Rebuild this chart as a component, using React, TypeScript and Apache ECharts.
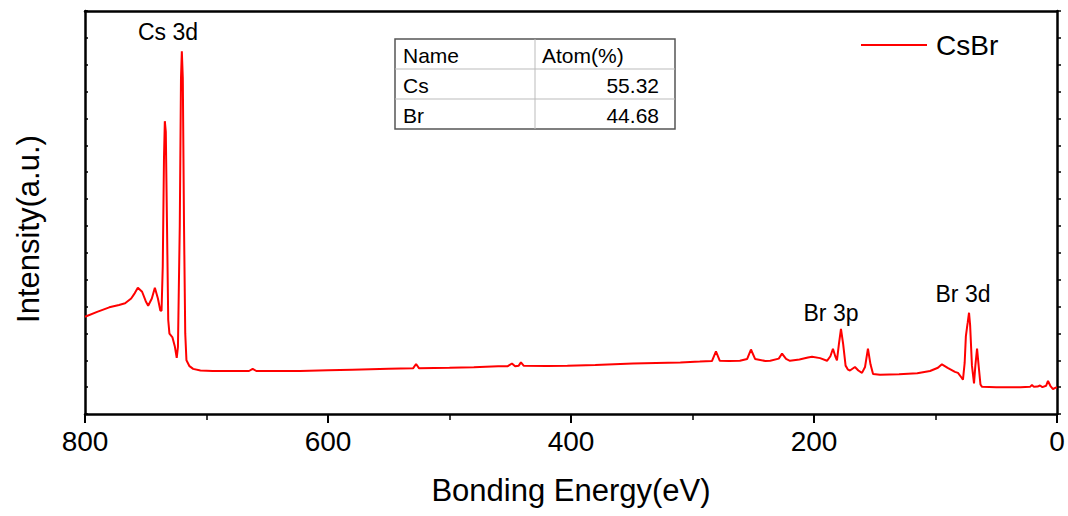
import React, { useEffect, useRef } from "react";
import * as echarts from "echarts";

const energy: number[] = [
  800, 790, 780, 772, 767, 762, 759, 756.5, 753, 750, 748, 745, 742.5, 740, 738, 737, 736, 735, 734.3, 733.5,
  732.5, 731.5, 730.5, 728, 726, 724.5, 723.5, 722, 721, 720.3, 719.5, 718.5, 717.5, 716.5, 714, 711, 705, 695,
  680, 665, 662, 659, 640, 623, 600, 580, 550, 530, 527.5, 525, 500, 480, 460, 452, 448.6, 446, 443, 441.2, 439,
  420, 403, 380, 349, 330, 310, 294, 284, 280.7, 277.5, 270, 261, 255, 251.9, 248.5, 240, 236, 229, 226.3, 223,
  219.8, 212, 205, 201.6, 195, 189.3, 186.5, 184.4, 182.5, 181.1, 179.5, 177.8, 176, 174, 172, 170.4, 166.3,
  163.5, 160.5, 158, 155.6, 153.5, 151.4, 145.7, 130, 115, 104.5, 98, 94.7, 90, 84, 81.5, 78.5, 77.4, 76, 75,
  74.1, 73.5, 72.4, 71.5, 70, 68.3, 67.2, 65.8, 64.5, 63, 61.7, 50, 30, 22.2, 20.6, 19, 16, 14, 12, 9, 7.4, 5.5,
  3.3, 1, 0,
];

const intensity: number[] = [
  3.62, 3.8, 3.97, 4.06, 4.12, 4.3, 4.5, 4.7, 4.55, 4.2, 4.03, 4.3, 4.7, 4.3, 3.85, 3.84, 5.5, 9.5, 10.9, 10.5,
  7.0, 3.5, 2.99, 2.85, 2.5, 2.09, 2.5, 7.0, 12.5, 13.5, 12.5, 7.0, 3.0, 2.0, 1.78, 1.68, 1.62, 1.6,
  1.6, 1.6, 1.68, 1.6, 1.6, 1.6, 1.63, 1.65, 1.68, 1.7, 1.86, 1.7, 1.72, 1.74, 1.78, 1.78, 1.88, 1.78, 1.8, 1.92, 1.8,
  1.79, 1.8, 1.82, 1.88, 1.9, 1.92, 1.95, 1.97, 2.33, 1.98, 1.97, 1.98, 2.05, 2.4, 2.05, 1.97, 1.98, 2.06, 2.25, 2.05,
  1.98, 2.03, 2.1, 2.13, 2.08, 1.98, 2.15, 2.43, 2.15, 2.0, 2.6, 3.17, 2.6, 1.8, 1.65, 1.62, 1.75,
  1.62, 1.53, 1.75, 2.43, 1.85, 1.49, 1.46, 1.48, 1.52, 1.6, 1.72, 1.85, 1.72, 1.57, 1.53, 1.35, 1.28, 1.9, 2.9,
  3.21, 3.4, 3.77, 3.3, 1.8, 1.14, 1.8, 2.43, 1.8, 1.1, 1.01, 1.0, 1.0, 1.01, 1.08, 1.01, 1.02, 1.06, 1.0, 1.05, 1.23, 1.05,
  0.93, 0.98, 1.0,
];

const seriesName = "CsBr";
const xTicks = [0, 200, 400, 600, 800];
const xTitle = "Bonding Energy(eV)";
const yTitle = "Intensity(a.u.)";
const tableHeader = ["Name", "Atom(%)"];
const tableNames = ["Cs", "Br"];
const tableValues = ["55.32", "44.68"];
const peakLabels = ["Cs 3d", "Br 3p", "Br 3d"];

const FONT = "'Liberation Sans', Arial, Helvetica, sans-serif";

export default function App() {
  const ref = useRef<HTMLDivElement>(null);
  useEffect(() => {
    if (!ref.current) return;
    const chart = echarts.init(ref.current, null, { renderer: "svg" });
    const data = energy.map((e, i) => [e, intensity[i]]);

    const tx = 395, ty = 39, tw = 280, col = 535, rh = 30;
    const tf = `21px ${FONT}`;
    const tableEls: any[] = [
      { type: "rect", shape: { x: tx, y: ty, width: tw, height: rh * 3 }, style: { fill: "#fff", stroke: "#555", lineWidth: 1.5 } },
      { type: "line", shape: { x1: tx, y1: ty + rh, x2: tx + tw, y2: ty + rh }, style: { stroke: "#bbb", lineWidth: 1 } },
      { type: "line", shape: { x1: tx, y1: ty + 2 * rh, x2: tx + tw, y2: ty + 2 * rh }, style: { stroke: "#bbb", lineWidth: 1 } },
      { type: "line", shape: { x1: col, y1: ty, x2: col, y2: ty + 3 * rh }, style: { stroke: "#bbb", lineWidth: 1 } },
      { type: "text", x: tx + 8, y: ty + rh / 2 + 1, style: { text: tableHeader[0], font: tf, fill: "#000", verticalAlign: "middle" } },
      { type: "text", x: col + 7, y: ty + rh / 2 + 1, style: { text: tableHeader[1], font: tf, fill: "#000", verticalAlign: "middle" } },
    ];
    tableNames.forEach((n, i) => {
      tableEls.push({ type: "text", x: tx + 8, y: ty + rh * (i + 1.5) + 1, style: { text: n, font: tf, fill: "#000", verticalAlign: "middle" } });
      tableEls.push({ type: "text", x: tx + tw - 16, y: ty + rh * (i + 1.5) + 1, style: { text: tableValues[i], font: tf, fill: "#000", verticalAlign: "middle", align: "right" } });
    });

    const labelPos = [
      [168, 32],
      [831, 313],
      [963, 294],
    ];
    const peakEls = peakLabels.map((t, i) => ({
      type: "text",
      x: labelPos[i][0],
      y: labelPos[i][1],
      style: { text: t, font: `23px ${FONT}`, fill: "#000", align: "center", verticalAlign: "middle" },
    }));

    const yTitleEl = {
      type: "text",
      x: 28,
      y: 229,
      rotation: Math.PI / 2,
      style: { text: yTitle, font: `31px ${FONT}`, fill: "#000", align: "center", verticalAlign: "middle" },
    };

    chart.setOption({
      animation: false,
      backgroundColor: "#fff",
      textStyle: { fontFamily: FONT },
      grid: { left: 85, right: 11, top: 11, bottom: 102, containLabel: false },
      legend: {
        data: [seriesName],
        left: 856,
        top: 26,
        icon: "rect",
        itemWidth: 66,
        itemHeight: 2,
        textStyle: { fontSize: 28, color: "#000", fontFamily: FONT, padding: [0, 0, 0, 4] },
      },
      xAxis: [
        {
          type: "value",
          inverse: true,
          min: 0,
          max: 800,
          interval: 200,
          name: xTitle,
          nameLocation: "middle",
          nameGap: 61,
          nameTextStyle: { fontSize: 31, color: "#000", fontFamily: FONT },
          axisLine: { show: true, onZero: false, lineStyle: { color: "#000", width: 2.5 } },
          axisTick: { show: true, inside: false, length: 9, lineStyle: { color: "#000", width: 2 } },
          minorTick: { show: true, splitNumber: 2, length: 6, lineStyle: { color: "#000", width: 1.5 } },
          axisLabel: {
            fontSize: 28,
            color: "#000",
            margin: 13,
            fontFamily: FONT,
            formatter: (v: number) => (xTicks.includes(v) ? String(v) : ""),
          },
          splitLine: { show: false },
        },
        {
          type: "value",
          position: "top",
          inverse: true,
          min: 0,
          max: 800,
          axisLine: { show: true, onZero: false, lineStyle: { color: "#000", width: 2.5 } },
          axisTick: { show: false },
          axisLabel: { show: false },
          splitLine: { show: false },
        },
      ],
      yAxis: [
        {
          type: "value",
          min: 0,
          max: 15,
          interval: 1,
          axisLine: { show: true, onZero: false, lineStyle: { color: "#000", width: 2.5 } },
          axisTick: { show: true, inside: true, length: 3, lineStyle: { color: "#000", width: 1.5 } },
          axisLabel: { show: false },
          splitLine: { show: false },
        },
        {
          type: "value",
          position: "right",
          min: 0,
          max: 15,
          interval: 1,
          axisLine: { show: true, onZero: false, lineStyle: { color: "#000", width: 2.5 } },
          axisTick: { show: true, inside: false, length: 4, lineStyle: { color: "#000", width: 1.5 } },
          axisLabel: { show: false },
          splitLine: { show: false },
        },
      ],
      series: [
        {
          name: seriesName,
          type: "line",
          data,
          showSymbol: false,
          symbol: "none",
          lineStyle: { color: "#ff0000", width: 2 },
          itemStyle: { color: "#ff0000" },
          clip: true,
          z: 1,
        },
      ],
      graphic: [...tableEls, ...peakEls, yTitleEl],
    });
    return () => chart.dispose();
  }, []);

  return (
    <div
      ref={ref}
      style={{ position: "fixed", left: 0, top: 0, width: 1068, height: 516 }}
    />
  );
}
